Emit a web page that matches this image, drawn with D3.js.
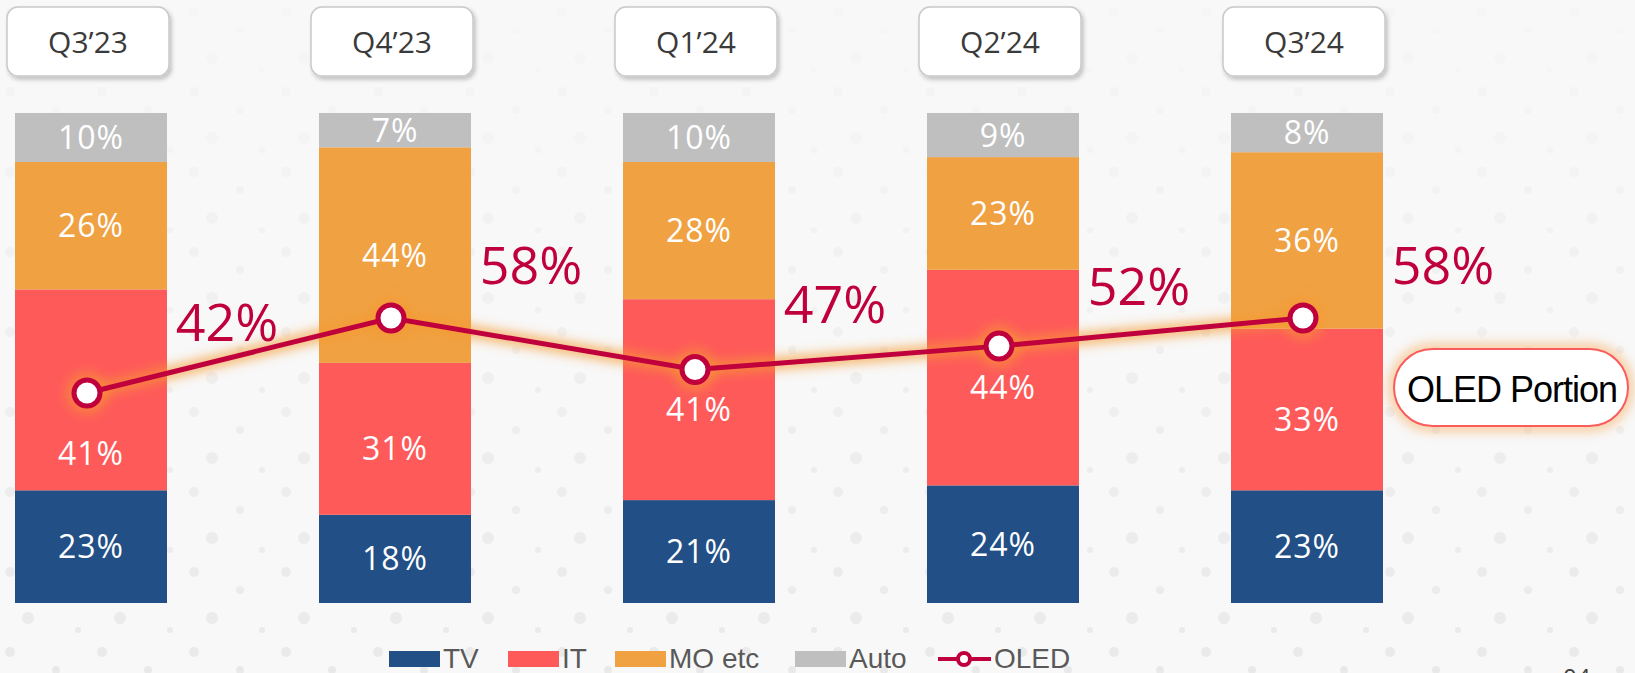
<!DOCTYPE html>
<html>
<head>
<meta charset="utf-8">
<script src="https://cdn.jsdelivr.net/npm/d3@7"></script>
<style>
  html, body { margin: 0; padding: 0; background: #f8f8f8; }
  svg { display: block; }
</style>
</head>
<body>
<div id="chart"></div>
<script>
// --- data ------------------------------------------------------------
var quarters = ["Q3\u201923", "Q4\u201923", "Q1\u201924", "Q2\u201924", "Q3\u201924"];
var seriesKeys = ["TV", "IT", "MO etc", "Auto"];
var tvShare   = [23, 18, 21, 24, 23];
var itShare   = [41, 31, 41, 44, 33];
var moShare   = [26, 44, 28, 23, 36];
var autoShare = [10, 7, 10, 9, 8];
var oledShare = [42, 58, 47, 52, 58];

(function () {
  "use strict";
  var W = 1635, H = 673;
  var COL = { "TV": "#214f86", "IT": "#fe5a5a", "MO etc": "#f0a142", "Auto": "#bfbfbf" };
  var CRIMSON = "#c0003c";
  var FONT = "'Open Sans', 'Noto Sans', sans-serif";

  var svg = d3.select("#chart").append("svg").attr("width", W).attr("height", H);
  var defs = svg.append("defs");

  // background dots (decorative, faint)
  var pat = defs.append("pattern").attr("id", "dots")
    .attr("patternUnits", "userSpaceOnUse").attr("width", 92).attr("height", 80);
  [[10, 12, 5], [56, 30, 4], [28, 58, 6], [78, 70, 3]].forEach(function (d) {
    pat.append("circle").attr("cx", d[0]).attr("cy", d[1]).attr("r", d[2]).attr("fill", "#e9e9e9");
  });
  var fade = defs.append("linearGradient").attr("id", "fade")
    .attr("x1", 0).attr("y1", 0).attr("x2", 0).attr("y2", 1);
  fade.append("stop").attr("offset", "0").attr("stop-color", "#fff").attr("stop-opacity", 0.1);
  fade.append("stop").attr("offset", "1").attr("stop-color", "#fff").attr("stop-opacity", 1);
  var mask = defs.append("mask").attr("id", "dotmask");
  mask.append("rect").attr("width", W).attr("height", H).attr("fill", "url(#fade)");

  svg.append("rect").attr("width", W).attr("height", H).attr("fill", "#f8f8f8");
  svg.append("rect").attr("width", W).attr("height", H).attr("fill", "url(#dots)")
    .attr("mask", "url(#dotmask)");

  var sh = defs.append("filter").attr("id", "boxsh")
    .attr("x", "-20%").attr("y", "-20%").attr("width", "140%").attr("height", "150%");
  sh.append("feDropShadow").attr("dx", 2).attr("dy", 3).attr("stdDeviation", 2)
    .attr("flood-color", "#000").attr("flood-opacity", 0.22);

  var glow = defs.append("filter").attr("id", "glow")
    .attr("x", "-20%").attr("y", "-50%").attr("width", "140%").attr("height", "200%");
  glow.append("feGaussianBlur").attr("stdDeviation", 6);

  // --- scales ---------------------------------------------------------
  var x = d3.scaleBand().domain(quarters).range([-61, 1459])
    .paddingInner(0.5).paddingOuter(0.25);
  var y = d3.scaleLinear().domain([0, 100]).range([603, 113]);
  var yO = d3.scaleLinear().domain([0, 100]).range([590, 121]);
  var bw = x.bandwidth();
  function cx(q) { return x(q) + bw / 2; }

  var rows = quarters.map(function (q, i) {
    return { q: q, "TV": tvShare[i], "IT": itShare[i], "MO etc": moShare[i], "Auto": autoShare[i], oled: oledShare[i] };
  });
  var stack = d3.stack().keys(seriesKeys)(rows);

  // --- quarter header boxes --------------------------------------------
  var hdr = svg.append("g").selectAll("g").data(quarters).enter().append("g")
    .attr("transform", function (q) { return "translate(" + (cx(q) - 3) + ",0)"; });
  hdr.append("rect").attr("x", -81).attr("y", 7).attr("width", 162).attr("height", 69)
    .attr("rx", 11).attr("fill", "#fff").attr("stroke", "#c9c9c9").attr("stroke-width", 1.5)
    .attr("filter", "url(#boxsh)");
  hdr.append("text").attr("x", 0).attr("y", 53).attr("text-anchor", "middle")
    .style("font-family", FONT).style("font-size", "30px").attr("fill", "#3a3a3a")
    .text(function (q) { return q; });

  // --- stacked bars -----------------------------------------------------
  var layers = svg.append("g").selectAll("g").data(stack).enter().append("g")
    .attr("fill", function (s) { return COL[s.key]; });
  layers.selectAll("rect").data(function (s) { return s; }).enter().append("rect")
    .attr("x", function (d) { return x(d.data.q); }).attr("width", bw)
    .attr("y", function (d) { return y(d[1]); })
    .attr("height", function (d) { return y(d[0]) - y(d[1]); });

  // --- OLED line --------------------------------------------------------
  var line = d3.line().x(function (d) { return cx(d.q) - 4; }).y(function (d) { return yO(d.oled); });
  var lg = svg.append("g");
  lg.append("path").attr("d", line(rows)).attr("fill", "none")
    .attr("stroke", "#f59a30").attr("stroke-width", 12).attr("opacity", 0.75)
    .attr("filter", "url(#glow)");
  lg.selectAll(".gl").data(rows).enter().append("circle")
    .attr("cx", function (d) { return cx(d.q) - 4; }).attr("cy", function (d) { return yO(d.oled); })
    .attr("r", 21).attr("fill", "#f59a30").attr("opacity", 0.6).attr("filter", "url(#glow)");

  // segment labels (drawn under the line so markers sit on top)
  var labG = svg.append("g");
  stack.forEach(function (s) {
    s.forEach(function (d) {
      var mid = (y(d[0]) + y(d[1])) / 2;
      if (s.key === "IT") {
        var my = yO(d.data.oled);
        mid = Math.abs(my - mid) < 20 ? my + 60 : mid + 10;
      }
      labG.append("text").attr("x", cx(d.data.q)).attr("y", mid)
        .attr("dy", "0.36em").attr("text-anchor", "middle")
        .style("font-family", FONT).style("font-size", "32px").style("letter-spacing", "1px")
        .attr("fill", "#fff").text(d.data[s.key] + "%");
    });
  });

  lg = svg.append("g");
  lg.append("path").attr("d", line(rows)).attr("fill", "none")
    .attr("stroke", CRIMSON).attr("stroke-width", 5);
  lg.selectAll(".mk").data(rows).enter().append("circle")
    .attr("cx", function (d) { return cx(d.q) - 4; }).attr("cy", function (d) { return yO(d.oled); })
    .attr("r", 13).attr("fill", "#fff").attr("stroke", CRIMSON).attr("stroke-width", 5);

  // OLED value labels, right of each bar
  svg.append("g").selectAll("text").data(rows).enter().append("text")
    .attr("x", function (d) { return x(d.q) + bw + 60; })
    .attr("y", function (d) { return yO(d.oled) * 0.76 + 42.3; })
    .attr("text-anchor", "middle")
    .style("font-family", FONT).style("font-size", "52px")
    .attr("fill", CRIMSON).text(function (d) { return d.oled + "%"; });

  // --- "OLED Portion" pill ----------------------------------------------
  var pill = svg.append("g");
  pill.append("rect").attr("x", 1394).attr("y", 349).attr("width", 234).attr("height", 77)
    .attr("rx", 38.5).attr("fill", "none").attr("stroke", "#f7a24a").attr("stroke-width", 10)
    .attr("opacity", 0.6).attr("filter", "url(#glow)");
  pill.append("rect").attr("x", 1394).attr("y", 349).attr("width", 234).attr("height", 77)
    .attr("rx", 38.5).attr("fill", "#fff").attr("stroke", "#fa5c5c").attr("stroke-width", 2);
  pill.append("text").attr("x", 1512).attr("y", 402).attr("text-anchor", "middle")
    .style("font-family", "'Liberation Sans', Arial, sans-serif").style("font-size", "36px")
    .style("letter-spacing", "-1px")
    .attr("fill", "#000").text("OLED Portion");

  // --- legend -----------------------------------------------------------
  var legX = [389, 508, 615, 795];
  var leg = svg.append("g");
  seriesKeys.forEach(function (k, i) {
    leg.append("rect").attr("x", legX[i]).attr("y", 651).attr("width", 51).attr("height", 16)
      .attr("fill", COL[k]);
    leg.append("text").attr("x", legX[i] + 54).attr("y", 668)
      .style("font-family", "'Liberation Sans', Arial, sans-serif").style("font-size", "28px")
      .attr("fill", "#595959").text(k);
  });
  leg.append("line").attr("x1", 938).attr("x2", 991).attr("y1", 659).attr("y2", 659)
    .attr("stroke", CRIMSON).attr("stroke-width", 4);
  leg.append("circle").attr("cx", 964).attr("cy", 659).attr("r", 6)
    .attr("fill", "#fff").attr("stroke", CRIMSON).attr("stroke-width", 4);
  leg.append("text").attr("x", 994).attr("y", 668)
    .style("font-family", "'Liberation Sans', Arial, sans-serif").style("font-size", "28px")
    .attr("fill", "#595959").text("OLED");

  // page number (cut off at the bottom edge, as in the slide)
  svg.append("text").attr("x", 1563).attr("y", 686)
    .style("font-family", FONT).style("font-size", "24px").attr("fill", "#404040").text("04");
})();
</script>
</body>
</html>
